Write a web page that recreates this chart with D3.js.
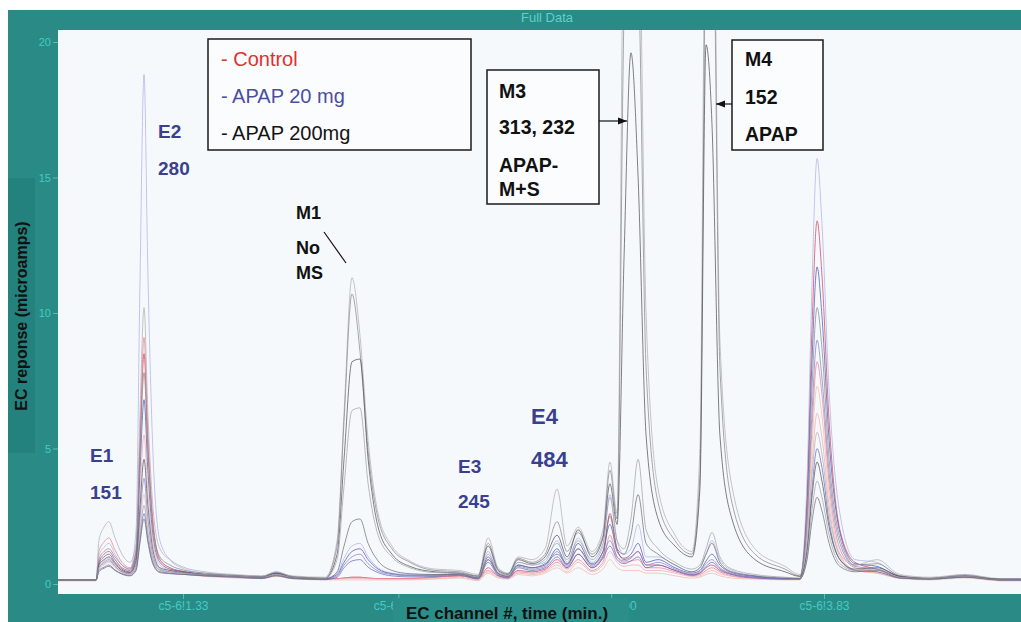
<!DOCTYPE html>
<html>
<head>
<meta charset="utf-8">
<script src="https://cdn.jsdelivr.net/npm/d3@7"></script>
<style>
  html, body { margin: 0; padding: 0; background: #ffffff; }
  svg { display: block; font-family: "Liberation Sans", Arial, sans-serif; }
</style>
</head>
<body>
<div id="chart"></div>
<script>
// -- Data -------------------------------------------------------
// retention time in minutes, shared by every trace
const times = [
  0.843, 0.991, 1.002, 1.022, 1.041, 1.065, 1.092, 1.123, 1.147, 1.162,
  1.178, 1.193, 1.213, 1.240, 1.279, 1.338, 1.416, 1.533, 1.638, 1.693,
  1.755, 1.884, 1.931, 1.958, 1.989, 2.020, 2.052, 2.091, 2.145, 2.215,
  2.313, 2.410, 2.481, 2.520, 2.559, 2.598, 2.637, 2.691, 2.742, 2.789,
  2.828, 2.871, 2.925, 2.968, 2.995, 3.023, 3.050, 3.077, 3.105, 3.136,
  3.183, 3.249, 3.315, 3.346, 3.370, 3.393, 3.424, 3.471, 3.561, 3.678,
  3.736, 3.764, 3.783, 3.803, 3.822, 3.850, 3.892, 3.951, 4.037, 4.126,
  4.243, 4.380, 4.516, 4.598
];

// Control (red)
const control1 = [.15,.15,.8,1.1,1.2,.9,.6,.5,1.2,5.0, 8.5,5.2,2.2,.9,.6,.45,.35,.3,.25,.35, .25,.2,.2,.22,.25,.25,.22,.2,.2,.2, .25,.3,.2,.6,.3,.25,.5,.45,.55,.9, .6,1.1,.6,1.0,2.6,1.3,.9,1.0,1.2,.7, .7,.5,.35,.4,.6,.7,.5,.35,.25,.2, .2,3.3,9.4,13.4,11.4,6.0,2.0,.8,.55,.3, .2,.3,.15,.15];
const control2 = [.15,.15,1.2,1.55,1.7,1.25,.8,.6,1.3,5.4, 9.1,5.6,2.3,.9,.6,.45,.35,.3,.25,.4, .25,.2,.2,.22,.25,.25,.22,.2,.2,.2, .25,.3,.2,.5,.3,.22,.45,.4,.5,.8, .55,.9,.5,.8,1.8,1.0,.8,.85,.9,.6, .6,.45,.3,.35,.5,.6,.45,.3,.22,.2, .2,2.0,5.7,8.2,7.0,3.7,1.3,.6,.45,.25, .2,.3,.15,.15];
const control3 = [.12,.12,.65,.85,.95,.7,.5,.4,.9,3.3, 5.5,3.4,1.5,.7,.5,.4,.3,.25,.2,.3, .2,.18,.18,.2,.2,.2,.2,.18,.18,.18, .2,.25,.15,.45,.25,.2,.4,.35,.45,.7, .45,.8,.45,.7,1.2,.8,.65,.7,.7,.5, .5,.4,.28,.3,.42,.5,.38,.28,.2,.18, .18,1.6,4.4,6.3,5.4,2.9,1.0,.5,.4,.22, .18,.25,.12,.12];
const control4 = [.12,.12,.55,.7,.8,.6,.42,.35,.65,2.0, 3.3,2.0,.9,.5,.4,.35,.28,.22,.2,.28, .2,.15,.15,.15,.15,.15,.15,.15,.15,.15, .18,.22,.12,.4,.22,.18,.35,.3,.4,.6, .4,.6,.35,.55,.9,.6,.5,.5,.5,.4, .4,.3,.22,.25,.35,.4,.3,.22,.18,.15, .15,1.8,5.1,7.3,6.2,3.3,1.1,.5,.4,.2, .15,.22,.12,.12];

// APAP 20 mg (blue)
const apap20a = [.15,.15,1.05,1.35,1.5,1.1,.7,.55,2.0,11.0, 18.8,11.5,4.8,1.6,.9,.55,.4,.32,.28,.45, .28,.22,.4,.95,1.4,1.5,1.0,.6,.4,.35, .35,.4,.25,1.2,.4,.3,.8,.7,.8,1.6, .8,1.7,.8,1.4,3.3,1.6,1.1,1.3,2.2,1.0, 1.0,.7,.45,.6,1.1,1.6,.9,.5,.3,.2, .2,3.9,11.0,15.7,13.3,7.1,2.6,.9,.8,.3, .2,.35,.15,.15];
const apap20b = [.15,.15,.75,1.0,1.1,.8,.55,.45,1.0,4.1, 6.8,4.2,1.8,.8,.55,.45,.35,.3,.25,.4, .25,.2,.35,.8,1.2,1.3,.9,.55,.38,.32, .32,.38,.22,1.0,.38,.28,.7,.6,.7,1.3, .7,1.5,.7,1.2,2.2,1.2,.95,1.1,1.5,.8, .9,.6,.4,.5,.85,1.1,.7,.42,.28,.2, .2,2.9,8.2,11.7,9.9,5.3,1.9,.75,.65,.28, .2,.3,.15,.15];
const apap20c = [.15,.15,.6,.8,.9,.65,.45,.38,.7,2.4, 3.9,2.4,1.05,.55,.45,.4,.32,.28,.22,.35, .22,.18,.3,.7,1.0,1.1,.75,.48,.35,.3, .3,.35,.2,.9,.35,.25,.65,.55,.65,1.2, .65,1.3,.65,1.05,1.6,1.0,.85,.95,1.2,.7, .8,.55,.35,.45,.75,.9,.6,.38,.25,.18, .18,2.3,6.3,9.0,7.6,4.1,1.5,.65,.55,.25, .18,.28,.15,.15];
const apap20d = [.15,.15,.5,.62,.7,.52,.38,.32,.55,1.6, 2.6,1.65,.78,.45,.4,.35,.3,.25,.2,.32, .2,.16,.25,.6,.85,.9,.62,.42,.3,.26, .28,.32,.18,.8,.32,.22,.6,.5,.6,1.0, .6,1.1,.6,.95,1.4,.9,.75,.85,1.0,.6, .7,.5,.32,.4,.65,.8,.55,.35,.22,.18, .18,1.3,3.5,5.0,4.3,2.3,.9,.5,.45,.22, .18,.25,.15,.15];

// APAP 200 mg (black / grey)
const apap200a = [.15,.15,1.6,2.1,2.3,1.7,1.1,.8,1.5,6.2, 10.2,6.3,2.8,1.3,.9,.6,.45,.35,.3,.45, .3,.25,1.6,6.3,11.3,9.2,5.3,2.6,1.4,.85, .55,.5,.35,1.7,.6,.4,1.0,.9,1.3,3.5, 1.4,2.1,1.2,2.0,4.5,2.6,26,30,27,10, 3.5,1.8,1.2,5,28,30,9,3.6,1.3,.65, .35,1.6,4.0,5.6,4.8,2.6,1.1,.7,.9,.35, .25,.35,.2,.2];
const apap200b = [.15,.15,.9,1.2,1.3,1.0,.7,.55,1.2,4.8, 7.8,4.9,2.1,1.0,.7,.5,.4,.32,.28,.42, .28,.22,1.4,6.0,10.7,8.6,4.9,2.4,1.3,.8, .5,.45,.3,1.5,.55,.38,.95,.8,1.1,2.3, 1.2,1.9,1.1,1.8,4.2,2.4,21,26,23,8, 3.0,1.6,1.1,4,24,27,8,3.0,1.1,.55, .3,2.6,7.2,10.2,8.7,4.6,1.7,.7,.75,.3, .22,.32,.18,.18];
const apap200c = [.15,.15,.7,.9,1.0,.75,.5,.42,.85,2.8, 4.6,2.9,1.25,.6,.5,.42,.35,.3,.25,.4, .25,.2,1.1,4.6,8.2,8.3,4.6,2.1,1.1,.65, .45,.4,.28,1.4,.5,.35,.9,.75,1.0,1.8, 1.0,2.0,1.0,1.7,3.7,2.2,12,19.6,15,5.5, 2.4,1.4,1.0,3.5,19.9,17,5.5,2.4,.9,.45, .28,1.2,3.2,4.5,3.8,2.1,.9,.55,.6,.28, .2,.28,.18,.18];
const apap200d = [.15,.15,.6,.75,.85,.65,.45,.38,.6,1.8, 2.9,1.85,.9,.5,.45,.4,.35,.3,.25,.35, .25,.2,.9,3.6,6.4,6.5,3.7,1.8,1.0,.6, .42,.4,.25,1.1,.45,.32,.8,.7,.9,1.5, .9,1.6,.9,1.5,3.2,1.6,1.3,2.4,4.6,2.0, 1.3,.8,.55,.7,1.3,1.9,1.0,.55,.35,.25, .22,1.0,2.7,3.8,3.2,1.8,.75,.5,.55,.25, .2,.28,.15,.15];
const apap200e = [.15,.15,.45,.58,.65,.5,.36,.3,.5,1.5, 2.4,1.55,.72,.42,.38,.35,.3,.26,.22,.3, .22,.18,.45,1.4,2.3,2.4,1.5,.85,.5,.38, .35,.35,.22,.9,.4,.28,.7,.6,.75,1.1, .75,1.3,.75,1.2,2.5,1.3,1.1,1.8,3.3,1.5, 1.1,.7,.45,.6,1.1,1.5,.8,.45,.3,.22, .2,.9,2.3,3.2,2.7,1.5,.65,.45,.5,.22, .18,.25,.15,.15];

const traceValues = [
  control1, control2, control3, control4,
  apap20a, apap20b, apap20c, apap20d,
  apap200a, apap200b, apap200c, apap200d, apap200e
];
const traceColors = [
  "#cf4460", "#ea808c", "#f1aab0", "#ecbcae",
  "#b2b2e4", "#5557ad", "#8484cc", "#6b6bbb",
  "#b0b0b4", "#8a8a8e", "#55555a", "#a3a3ac", "#727276"
];

const yTicks = [0, 5, 10, 15, 20];
const xTickValues = [1.33, 2.17, 3.00, 3.83];
const xTickLabels = ["c5-6!1.33", "c5-6!2.17", "c5-6!3.00", "c5-6!3.83"];

const legendLabels = ["- Control", "- APAP 20 mg", "- APAP 200mg"];
const legendColors = ["#e2302c", "#4a4f9e", "#141414"];

// -- Layout -----------------------------------------------------
const width = 1021, height = 622;
const plot = { left: 58, top: 30, right: 1021, bottom: 594 };
const TEAL = "#2a8a85";

const svg = d3.select("#chart").append("svg")
  .attr("width", width)
  .attr("height", height);

svg.append("rect").attr("width", width).attr("height", height).attr("fill", "#ffffff");
svg.append("rect")
  .attr("x", 8).attr("y", 10)
  .attr("width", width - 8).attr("height", height - 10)
  .attr("fill", TEAL);
svg.append("rect")
  .attr("x", plot.left).attr("y", plot.top)
  .attr("width", plot.right - plot.left).attr("height", plot.bottom - plot.top)
  .attr("fill", "#f6f9fc");

svg.append("defs").append("clipPath").attr("id", "plot-clip")
  .append("rect")
  .attr("x", plot.left).attr("y", plot.top)
  .attr("width", plot.right - plot.left).attr("height", plot.bottom - plot.top);

// -- Scales -----------------------------------------------------
const x = d3.scaleLinear().domain([1.33, 3.83]).range([183, 824]);
const y = d3.scaleLinear().domain([0, 20]).range([584, 42]);

// -- Axes -------------------------------------------------------
const yAxis = svg.append("g")
  .attr("transform", `translate(${plot.left},0)`)
  .call(d3.axisLeft(y).tickValues(yTicks).tickSize(5).tickPadding(2));
yAxis.select(".domain").remove();
yAxis.selectAll("line").attr("stroke", "#5fb8b5");
yAxis.selectAll("text")
  .attr("fill", "#44cbc6")
  .style("font-size", "11px")
  .style("font-family", "'Liberation Sans', Arial, sans-serif");

const xAxis = svg.append("g")
  .attr("transform", `translate(0,${plot.bottom})`)
  .call(d3.axisBottom(x).tickValues(xTickValues)
    .tickFormat((d, i) => xTickLabels[i]).tickSize(5).tickPadding(2));
xAxis.select(".domain").remove();
xAxis.selectAll("line").attr("stroke", "#5fb8b5");
xAxis.selectAll("text")
  .attr("fill", "#44cbc6")
  .style("font-size", "12px")
  .style("font-family", "'Liberation Sans', Arial, sans-serif");

// title
svg.append("text")
  .attr("x", 547).attr("y", 22)
  .attr("text-anchor", "middle")
  .attr("fill", "#5cd2cd")
  .style("font-size", "13px")
  .text("Full Data");

// axis title boxes
svg.append("rect")
  .attr("x", 8).attr("y", 178).attr("width", 27).attr("height", 275)
  .attr("fill", "#23827d");
svg.append("text")
  .attr("transform", "translate(27,316) rotate(-90)")
  .attr("text-anchor", "middle")
  .attr("fill", "#111")
  .style("font-size", "16px")
  .style("font-weight", "bold")
  .text("EC reponse (microamps)");

svg.append("rect")
  .attr("x", 393).attr("y", 598).attr("width", 236).attr("height", 24)
  .attr("fill", "#2c8e89");
svg.append("text")
  .attr("x", 507).attr("y", 619)
  .attr("text-anchor", "middle")
  .attr("fill", "#111")
  .style("font-size", "17px")
  .style("font-weight", "bold")
  .text("EC channel #, time (min.)");

// -- Traces -----------------------------------------------------
const line = d3.line()
  .x((d, i) => x(times[i]))
  .y((d) => y(d))
  .curve(d3.curveMonotoneX);

svg.append("g")
  .attr("clip-path", "url(#plot-clip)")
  .selectAll("path")
  .data(traceValues)
  .join("path")
  .attr("d", (d) => line(d))
  .attr("fill", "none")
  .attr("stroke", (d, i) => traceColors[i])
  .attr("stroke-width", 1)
  .attr("stroke-opacity", 0.75);

// -- Legend -----------------------------------------------------
svg.append("rect")
  .attr("x", 208).attr("y", 39).attr("width", 263).attr("height", 111)
  .attr("fill", "#fbfcfe")
  .attr("stroke", "#1a1a1a")
  .attr("stroke-width", 1.5);
svg.append("g").selectAll("text")
  .data(legendLabels)
  .join("text")
  .attr("x", 221)
  .attr("y", (d, i) => 66 + i * 37)
  .attr("fill", (d, i) => legendColors[i])
  .style("font-size", "20px")
  .text((d) => d);

// -- Peak annotations -------------------------------------------
function label(lines, xPos, ys, color, size) {
  lines.forEach((t, i) => {
    svg.append("text")
      .attr("x", xPos).attr("y", ys[i])
      .attr("fill", color)
      .style("font-size", size + "px")
      .style("font-weight", "bold")
      .text(t);
  });
}

const BLUE = "#3b3f90";
label(["E1", "151"], 90, [462, 499], BLUE, 19);
label(["E2", "280"], 158, [138, 175], BLUE, 19);
label(["E3", "245"], 458, [473, 508], BLUE, 19);
label(["E4", "484"], 531, [424, 467], BLUE, 22);

label(["M1", "No", "MS"], 296, [219, 254, 279], "#111", 18);
svg.append("line")
  .attr("x1", 324).attr("y1", 232).attr("x2", 346).attr("y2", 263)
  .attr("stroke", "#111").attr("stroke-width", 1.2);

// arrow marker
svg.select("defs").append("marker")
  .attr("id", "arrowhead")
  .attr("viewBox", "0 -5 10 10")
  .attr("refX", 10).attr("refY", 0)
  .attr("markerWidth", 9).attr("markerHeight", 9)
  .attr("markerUnits", "userSpaceOnUse")
  .attr("orient", "auto")
  .append("path")
  .attr("d", "M0,-4L10,0L0,4Z")
  .attr("fill", "#111");

svg.append("rect")
  .attr("x", 487).attr("y", 70).attr("width", 112).attr("height", 134)
  .attr("fill", "#fbfcfe").attr("stroke", "#1a1a1a").attr("stroke-width", 1.5);
label(["M3", "313, 232", "APAP-", "M+S"], 499, [98, 134, 172, 196], "#111", 19.5);
svg.append("line")
  .attr("x1", 599).attr("y1", 121).attr("x2", 627).attr("y2", 121)
  .attr("stroke", "#111").attr("stroke-width", 1.2)
  .attr("marker-end", "url(#arrowhead)");

svg.append("rect")
  .attr("x", 732).attr("y", 40).attr("width", 91).attr("height", 110)
  .attr("fill", "#fbfcfe").attr("stroke", "#1a1a1a").attr("stroke-width", 1.5);
label(["M4", "152", "APAP"], 745, [66, 104, 141], "#111", 19.5);
svg.append("line")
  .attr("x1", 732).attr("y1", 104).attr("x2", 716).attr("y2", 104)
  .attr("stroke", "#111").attr("stroke-width", 1.2)
  .attr("marker-end", "url(#arrowhead)");
</script>
</body>
</html>
